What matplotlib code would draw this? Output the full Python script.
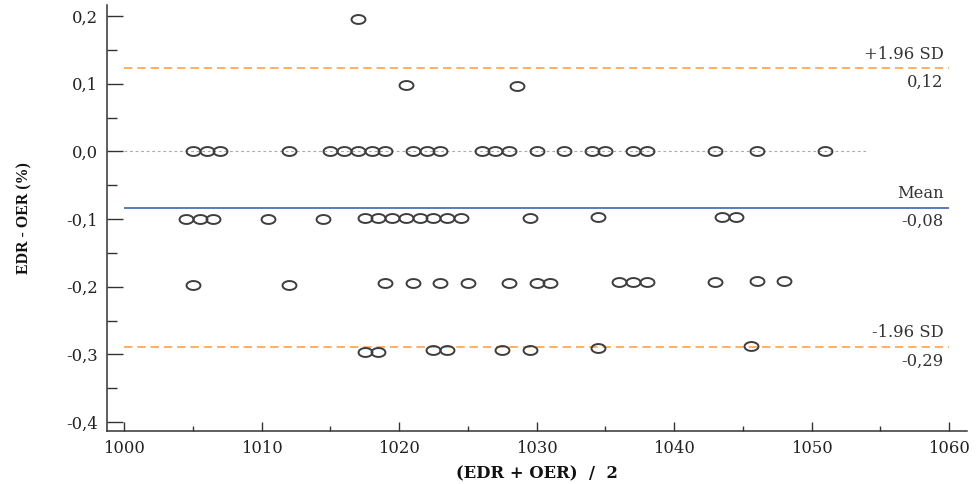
import numpy as np
import matplotlib
matplotlib.use("Agg")
import matplotlib.pyplot as plt
from matplotlib.path import Path
from matplotlib.ticker import MultipleLocator, FuncFormatter

# Bland-Altman data: mean of the two methods vs. their difference
avg_0p2 = [1017.0]
diff_0p2 = [0.196]

avg_0p1 = [1020.5, 1028.6]
diff_0p1 = [0.098, 0.096]

avg_0 = [1005, 1006, 1007, 1012, 1015, 1016, 1017, 1018, 1019, 1021, 1022, 1023,
         1026, 1027, 1028, 1030, 1032, 1034, 1035, 1037, 1038, 1043, 1046, 1051]
diff_0 = [0.0] * 24

avg_m0p1 = [1004.5, 1005.5, 1006.5, 1010.5, 1014.5, 1017.5, 1018.5, 1019.5, 1020.5,
            1021.5, 1022.5, 1023.5, 1024.5, 1029.5, 1034.5, 1043.5, 1044.5]
diff_m0p1 = [-0.100, -0.100, -0.100, -0.100, -0.100, -0.099, -0.099, -0.099, -0.099,
             -0.099, -0.099, -0.099, -0.099, -0.098, -0.097, -0.097, -0.097]

avg_m0p2 = [1005, 1012, 1019, 1021, 1023, 1025, 1028, 1030, 1031, 1036, 1037, 1038,
            1043, 1046, 1048]
diff_m0p2 = [-0.198, -0.197, -0.195, -0.195, -0.195, -0.195, -0.194, -0.194, -0.194,
             -0.193, -0.193, -0.193, -0.193, -0.191, -0.191]

avg_m0p3 = [1017.5, 1018.5, 1022.5, 1023.5, 1027.5, 1029.5, 1034.5, 1045.6]
diff_m0p3 = [-0.296, -0.296, -0.294, -0.294, -0.293, -0.293, -0.290, -0.287]

mean_diff = -0.083
upper_loa = 0.123
lower_loa = -0.289
zero_line_end = 1054

x_ticks = [1000, 1010, 1020, 1030, 1040, 1050, 1060]
y_ticks = [0.2, 0.1, 0.0, -0.1, -0.2, -0.3, -0.4]

x_all = np.concatenate([avg_0p2, avg_0p1, avg_0, avg_m0p1, avg_m0p2, avg_m0p3])
y_all = np.concatenate([diff_0p2, diff_0p1, diff_0, diff_m0p1, diff_m0p2, diff_m0p3])

plt.rcParams['font.family'] = ['DejaVu Serif']
text_color = '#222222'
fs = 11.8

fig = plt.figure(figsize=(9.77, 4.84), dpi=100)
ax = fig.add_axes([0.1095, 0.1095, 0.8803, 0.880])

# horizontal reference lines
ax.hlines(0.0, 1000, zero_line_end, colors='#aaaaaa', linewidth=0.8,
          linestyles=(0, (2.5, 2.5)), zorder=1)
ax.hlines(mean_diff, 1000, 1060, colors='#2b5a9e', linewidth=1.1, zorder=1)
for v in (upper_loa, lower_loa):
    ax.hlines(v, 1000, 1060, colors='#ff9a3c', linewidth=1.1,
              linestyles=(0, (5.5, 3.2)), zorder=1)

# slightly flattened open circles
t = np.linspace(0, 2 * np.pi, 60)
ellipse = Path(np.column_stack([np.cos(t), 0.64 * np.sin(t)]), closed=True)
ax.plot(x_all, y_all, linestyle='none', marker=ellipse, markersize=10.0,
        markerfacecolor='none', markeredgecolor='#3d3d3d', markeredgewidth=1.4,
        zorder=3)

def comma(v):
    return f"{v:.2f}".replace('.', ',')

label_specs = [
    (upper_loa, '+1.96 SD'),
    (mean_diff, 'Mean'),
    (lower_loa, '-1.96 SD'),
]
for val, name in label_specs:
    ax.annotate(name, xy=(1060, val), xytext=(-4, 4), textcoords='offset points',
                ha='right', va='bottom', fontsize=fs, color='#333333')
    ax.annotate(comma(val), xy=(1060, val), xytext=(-4, -4), textcoords='offset points',
                ha='right', va='top', fontsize=fs, color='#333333')

ax.set_xlim(998.76, 1061.3)
ax.set_ylim(-0.4133, 0.2163)

ax.set_xticks(x_ticks)
ax.set_yticks(y_ticks)
ax.xaxis.set_minor_locator(MultipleLocator(5))
ax.yaxis.set_minor_locator(MultipleLocator(0.05))
ax.yaxis.set_major_formatter(FuncFormatter(lambda v, p: f"{v:.1f}".replace('.', ',').replace('-0,0', '0,0')))

ax.tick_params(axis='y', which='major', direction='in', length=11.5, width=1.0,
               color='#333333', pad=6.5, labelsize=fs, labelcolor=text_color)
ax.tick_params(axis='y', which='minor', direction='in', length=7.2, width=1.0,
               color='#333333')
ax.tick_params(axis='x', which='major', direction='in', length=6.5, width=1.0,
               color='#333333', pad=6.5, labelsize=fs, labelcolor=text_color)
ax.tick_params(axis='x', which='minor', direction='in', length=3.6, width=1.0,
               color='#333333')

for side in ('top', 'right'):
    ax.spines[side].set_visible(False)
for side in ('left', 'bottom'):
    ax.spines[side].set_color('#333333')
    ax.spines[side].set_linewidth(1.1)

ax.set_xlabel('(EDR + OER)  /  2', fontsize=fs, fontweight='bold',
              color='#111111', labelpad=6)
ax.set_ylabel('EDR - OER (%)', fontsize=11.4, fontweight='bold',
              color='#111111', family=['Liberation Serif'])
ax.yaxis.set_label_coords(-0.087, 0.5)

fig.savefig('out.png', dpi=100)
